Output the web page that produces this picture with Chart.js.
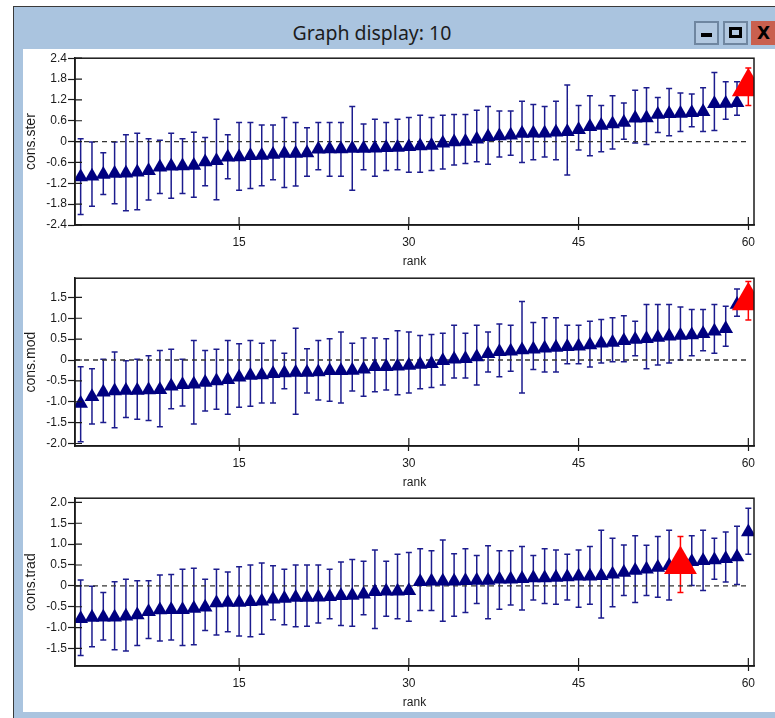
<!DOCTYPE html>
<html>
<head>
<meta charset="utf-8">
<title>Graph display: 10</title>
<script src="https://cdn.jsdelivr.net/npm/chart.js@4.4.1/dist/chart.umd.min.js"></script>
<style>
  html, body { margin: 0; padding: 0; width: 775px; height: 718px; overflow: hidden; background: #fff; }
  #win { position: absolute; left: 13px; top: 6px; width: 775px; height: 720px; background: #aac4df;
         border-left: 1px solid #3a3a3a; border-top: 1px solid #3a3a3a; }
  #title { position: absolute; left: 200px; top: 19px; width: 344px; text-align: center;
           font: 19.5px "Noto Sans", "Open Sans", sans-serif; color: #1c1c1c; line-height: 28px; }
  .btn { position: absolute; top: 21px; width: 21px; height: 20px; border: 2px solid #6f86a0; background: #b2c8e0; }
  #bmin { left: 694px; }
  #bmin::after { content: ""; position: absolute; left: 5px; top: 10px; width: 11px; height: 4px; background: #000; }
  #bmax { left: 723px; }
  #bmax::after { content: ""; position: absolute; left: 4px; top: 4px; width: 7px; height: 5px; border: 3px solid #000; }
  #bclose { left: 751px; width: 30px; background: #c9604f; border-color: #c9604f; }
  #bclose span { position: absolute; left: 4px; top: 0px; font: bold 17px "DejaVu Sans", sans-serif; color: #000; line-height: 20px; }
  #client { position: absolute; left: 23px; top: 49px; width: 752px; height: 663px; background: #fff; }
  canvas { position: absolute; left: 23px; }
  #c1 { top: 50px; }
  #c2 { top: 270px; }
  #c3 { top: 490px; }
</style>
</head>
<body>
<div id="win"></div>
<div id="title">Graph display: 10</div>
<div class="btn" id="bmin"></div>
<div class="btn" id="bmax"></div>
<div class="btn" id="bclose"><span>X</span></div>
<div id="client"></div>
<canvas id="c1" width="752" height="220"></canvas>
<canvas id="c2" width="752" height="220"></canvas>
<canvas id="c3" width="752" height="222"></canvas>
<script>
// ranks on the x axis
const ranks = Array.from({length: 60}, (_, i) => i + 1);
const xTicks = [15, 30, 45, 60];

// cons.ster
const sterMean = [-1.02,-1.00,-0.95,-0.92,-0.91,-0.88,-0.84,-0.74,-0.71,-0.70,
	-0.69,-0.59,-0.55,-0.45,-0.44,-0.41,-0.40,-0.37,-0.34,-0.34,
	-0.33,-0.22,-0.21,-0.21,-0.20,-0.20,-0.19,-0.18,-0.17,-0.15,
	-0.13,-0.11,-0.05,-0.01,0.00,0.07,0.14,0.16,0.18,0.23,
	0.24,0.24,0.27,0.28,0.34,0.43,0.46,0.51,0.55,0.67,
	0.68,0.78,0.80,0.81,0.83,0.86,1.09,1.10,1.12,1.58];
const sterUpper = [0.08,-0.01,-0.32,-0.01,0.20,0.24,0.08,0.04,0.24,0.08,
	0.27,0.12,0.64,0.20,0.55,0.55,0.48,0.48,0.69,0.55,
	0.40,0.55,0.55,0.55,1.01,0.51,0.64,0.55,0.64,0.69,
	0.76,0.69,0.76,0.78,0.78,0.90,1.01,0.88,0.88,1.16,
	1.07,1.01,1.16,1.63,1.04,1.32,1.04,1.32,1.11,1.48,
	1.55,1.27,1.53,1.40,1.37,1.55,1.99,1.72,1.72,2.12];
const sterLower = [-2.10,-1.86,-1.52,-1.79,-1.99,-1.96,-1.68,-1.49,-1.63,-1.49,
	-1.60,-1.27,-1.67,-1.07,-1.40,-1.35,-1.27,-1.10,-1.32,-1.28,
	-1.00,-0.81,-1.00,-1.00,-1.40,-0.81,-1.00,-0.83,-0.81,-0.88,
	-0.88,-0.83,-0.79,-0.67,-0.63,-0.58,-0.65,-0.44,-0.39,-0.60,
	-0.52,-0.44,-0.52,-0.96,-0.24,-0.41,-0.29,-0.21,0.07,-0.04,
	-0.08,0.26,0.17,0.29,0.43,0.29,0.32,0.64,0.76,1.04];
const sterTicks = [-2.4, -1.8, -1.2, -0.6, 0, 0.6, 1.2, 1.8, 2.4];

// cons.mod
const modMean = [-1.04,-0.88,-0.77,-0.74,-0.73,-0.73,-0.72,-0.71,-0.63,-0.59,
	-0.58,-0.54,-0.50,-0.47,-0.41,-0.37,-0.36,-0.33,-0.31,-0.30,
	-0.30,-0.29,-0.26,-0.26,-0.25,-0.22,-0.16,-0.16,-0.15,-0.13,
	-0.11,-0.09,-0.02,0.02,0.03,0.07,0.15,0.20,0.21,0.24,
	0.26,0.28,0.30,0.32,0.33,0.36,0.40,0.42,0.46,0.49,
	0.51,0.54,0.57,0.59,0.60,0.63,0.69,0.75,1.33,1.42];
const modUpper = [-0.16,-0.21,0.02,0.19,-0.02,0.02,0.10,0.23,0.26,0.02,
	0.47,0.23,0.26,0.47,0.39,0.47,0.40,0.47,0.16,0.76,
	0.27,0.47,0.51,0.67,0.40,0.53,0.53,0.51,0.70,0.67,
	0.59,0.61,0.64,0.83,0.64,0.83,0.67,0.86,0.83,1.40,
	0.90,1.01,1.01,0.83,0.83,0.93,0.97,1.01,1.06,0.93,
	1.33,1.33,1.33,1.27,1.21,1.21,1.33,1.29,1.70,1.88];
const modLower = [-1.96,-1.53,-1.50,-1.62,-1.38,-1.42,-1.45,-1.60,-1.17,-1.10,
	-1.53,-1.22,-1.18,-1.30,-1.13,-1.11,-1.03,-1.03,-0.69,-1.30,
	-0.79,-0.96,-0.99,-1.03,-0.74,-0.87,-0.76,-0.72,-0.83,-0.79,
	-0.69,-0.66,-0.60,-0.43,-0.43,-0.60,-0.29,-0.40,-0.27,-0.79,
	-0.23,-0.29,-0.29,-0.09,-0.09,-0.17,-0.07,-0.04,-0.04,0.10,
	-0.21,-0.12,-0.07,0.00,0.10,0.22,0.16,0.33,1.05,0.96];
const modTicks = [-2.0, -1.5, -1.0, -0.5, 0, 0.5, 1.0, 1.5];

// cons.trad
const tradMean = [-0.79,-0.76,-0.75,-0.75,-0.73,-0.70,-0.62,-0.58,-0.57,-0.57,
	-0.54,-0.51,-0.41,-0.40,-0.40,-0.38,-0.37,-0.32,-0.30,-0.28,
	-0.28,-0.27,-0.26,-0.24,-0.23,-0.20,-0.14,-0.13,-0.13,-0.12,
	0.10,0.11,0.11,0.11,0.12,0.13,0.13,0.16,0.16,0.17,
	0.19,0.19,0.20,0.21,0.23,0.23,0.24,0.28,0.32,0.37,
	0.40,0.44,0.48,0.51,0.58,0.60,0.62,0.65,0.69,1.29];
const tradUpper = [0.14,-0.01,-0.16,0.10,0.16,0.12,0.12,0.26,0.27,0.40,
	0.42,0.16,0.40,0.33,0.46,0.50,0.55,0.48,0.40,0.50,
	0.50,0.50,0.40,0.57,0.63,0.59,0.86,0.59,0.76,0.80,
	0.89,0.84,1.10,0.77,0.89,0.73,0.96,0.84,0.84,0.94,
	0.73,0.89,0.86,0.76,0.86,0.94,1.33,1.14,0.98,1.20,
	0.97,1.18,1.33,1.18,1.20,1.33,1.14,1.29,1.43,1.86];
const tradLower = [-1.67,-1.46,-1.30,-1.53,-1.56,-1.43,-1.26,-1.32,-1.30,-1.43,
	-1.41,-1.07,-1.18,-1.10,-1.20,-1.22,-1.16,-0.81,-0.93,-0.98,
	-0.97,-0.89,-0.79,-0.95,-0.97,-0.69,-1.02,-0.73,-0.79,-0.85,
	-0.59,-0.59,-0.85,-0.73,-0.64,-0.42,-0.79,-0.56,-0.46,-0.58,
	-0.34,-0.42,-0.44,-0.34,-0.51,-0.44,-0.77,-0.50,-0.23,-0.40,
	-0.23,-0.27,-0.34,-0.16,0.01,-0.11,0.16,0.09,0.03,0.76];
const tradTicks = [-1.5, -1.0, -0.5, 0, 0.5, 1.0, 1.5, 2.0];

const NAVY = '#000080';
const BAR_NAVY = '#1c1c8e';
const RED = '#ff0000';
const INK = '#1a1a1a';

// whiskers with caps, drawn under the markers
const errorBars = {
	id: 'errorBars',
	beforeDatasetsDraw (chart)
	{
		const {ctx, scales: {x, y}} = chart;
		ctx.save();
		ctx.lineWidth = 1.5;
		chart.data.datasets.slice().reverse().forEach(ds => {
			if (!ds.errLo) return;
			ctx.strokeStyle = ds.errColor;
			ctx.beginPath();
			ds.data.forEach((p, i) => {
				const px = x.getPixelForValue(p.x);
				const top = y.getPixelForValue(ds.errHi[i]);
				const bot = y.getPixelForValue(ds.errLo[i]);
				ctx.moveTo(px, top); ctx.lineTo(px, bot);
				ctx.moveTo(px - 3, top); ctx.lineTo(px + 3, top);
				ctx.moveTo(px - 3, bot); ctx.lineTo(px + 3, bot);
			});
			ctx.stroke();
		});
		ctx.restore();
	},
	afterDraw (chart)
	{
		const {ctx, chartArea: a, scales: {x, y}} = chart;
		ctx.save();
		ctx.strokeStyle = INK;
		ctx.lineWidth = 1.5;
		ctx.strokeRect(a.left, a.top, a.right - a.left, a.bottom - a.top);
		// the tick marks cross the axis line, this is the inner half
		ctx.lineWidth = 1.2;
		ctx.beginPath();
		y.ticks.forEach(t => {
			const py = y.getPixelForValue(t.value);
			ctx.moveTo(a.left, py); ctx.lineTo(a.left + 7, py);
		});
		x.ticks.forEach(t => {
			const px = x.getPixelForValue(t.value);
			ctx.moveTo(px, a.bottom); ctx.lineTo(px, a.bottom - 8);
		});
		ctx.stroke();
		ctx.restore();
	}
};

function buildChart (id, p)
{
	const navy = [], navyLo = [], navyHi = [];
	const red = [], redLo = [], redHi = [];
	ranks.forEach((r, i) => {
		const pt = {x: r, y: p.mean[i]};
		if (r === p.highlight) {
			red.push(pt); redLo.push(p.lower[i]); redHi.push(p.upper[i]);
		} else {
			navy.push(pt); navyLo.push(p.lower[i]); navyHi.push(p.upper[i]);
		}
	});

	const tickFont = {family: '"Liberation Sans", Arial, sans-serif', size: 12};

	return new Chart(document.getElementById(id).getContext('2d'), {
		type: 'scatter',
		data: {
			datasets: [
				{
					label: 'highlight',
					data: red,
					errLo: redLo,
					errHi: redHi,
					errColor: RED,
					pointStyle: 'triangle',
					pointRadius: 19,
					backgroundColor: RED,
					borderColor: RED,
					borderWidth: 0
				},
				{
					label: p.title,
					data: navy,
					errLo: navyLo,
					errHi: navyHi,
					errColor: BAR_NAVY,
					pointStyle: 'triangle',
					pointRadius: 8.5,
					backgroundColor: NAVY,
					borderColor: NAVY,
					borderWidth: 0
				},
				{
					label: 'zero',
					type: 'line',
					data: [{x: 0.5, y: 0}, {x: 60, y: 0}],
					showLine: true,
					pointRadius: 0,
					borderColor: '#333',
					borderWidth: 1.3,
					borderDash: [5, 4]
				}
			]
		},
		options: {
			responsive: false,
			animation: false,
			layout: {autoPadding: false, padding: p.pad},
			plugins: {legend: {display: false}, tooltip: {enabled: false}},
			scales: {
				x: {
					type: 'linear',
					min: 0.5,
					max: 60.5,
					afterBuildTicks: s => { s.ticks = xTicks.map(v => ({value: v})); },
					afterFit: s => { s.height = 44; },
					ticks: {color: INK, font: tickFont, padding: 5, maxRotation: 0, callback: v => String(v)},
					grid: {display: true, drawOnChartArea: false, tickLength: 5, tickColor: INK, tickWidth: 1.2},
					border: {display: true, color: INK, width: 1.5},
					title: {display: true, text: 'rank', color: INK, font: tickFont, padding: 0}
				},
				y: {
					min: p.yMin,
					max: p.yMax,
					afterBuildTicks: s => { s.ticks = p.yTicks.map(v => ({value: v})); },
					afterFit: s => { s.width = 52; },
					ticks: {color: INK, font: tickFont, padding: 1, callback: v => v === 0 ? '0' : v.toFixed(1)},
					grid: {display: true, drawOnChartArea: false, tickLength: 7, tickColor: INK, tickWidth: 1.2},
					border: {display: true, color: INK, width: 1.5},
					title: {display: true, text: p.title, color: INK, padding: 0,
						font: {family: '"Liberation Sans", Arial, sans-serif', size: 14}}
				}
			}
		},
		plugins: [errorBars]
	});
}

buildChart('c1', {title: 'cons.ster', mean: sterMean, lower: sterLower, upper: sterUpper, highlight: 60,
	yMin: -2.4, yMax: 2.4, yTicks: sterTicks, pad: {left: 0, right: 21, top: 3, bottom: 1}});
buildChart('c2', {title: 'cons.mod', mean: modMean, lower: modLower, upper: modUpper, highlight: 60,
	yMin: -2.06, yMax: 1.96, yTicks: modTicks, pad: {left: 0, right: 21, top: 4, bottom: 0}});
buildChart('c3', {title: 'cons.trad', mean: tradMean, lower: tradLower, upper: tradUpper, highlight: 54,
	yMin: -1.92, yMax: 2.1, yTicks: tradTicks, pad: {left: 0, right: 21, top: 4, bottom: 2}});
</script>
</body>
</html>
